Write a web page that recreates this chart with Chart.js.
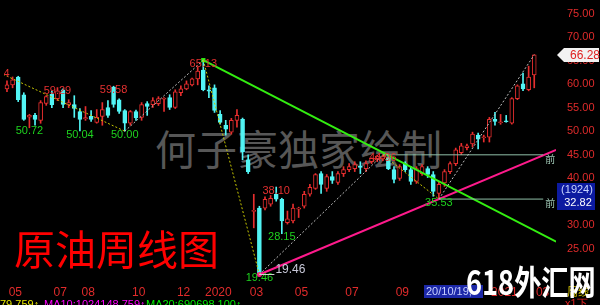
<!DOCTYPE html>
<html>
<head>
<meta charset="utf-8">
<script src="https://cdn.jsdelivr.net/npm/chart.js@4.4.1/dist/chart.umd.min.js"></script>
<style>
  html, body { margin: 0; padding: 0; background: #000; }
  #wrap { position: relative; width: 600px; height: 305px; overflow: hidden; background: #000; }
  #kline { position: absolute; left: 0; top: 0; }
  .mark { position: absolute; white-space: nowrap; line-height: 1; font-family: 'Noto Sans CJK SC', sans-serif; }
</style>
</head>
<body>
<div id="wrap">
  <div class="mark" style="left:155px;top:127px;font-size:41px;color:#575757;">何子豪独家绘制</div>
  <canvas id="kline" width="600" height="305"></canvas>
  <div class="mark" style="left:14px;top:227px;font-size:41px;color:#ff0000;">原油周线图</div>
  <div class="mark" style="left:466px;top:264px;font-size:34px;color:#ffffff;font-weight:bold;transform:scaleX(0.8);transform-origin:left top;">618外汇网</div>
</div>
<script>
// 原油周线 K线 (2019-05 ~ 2021-03)
const openArr = [
  59.03, 59.87, 61.55, 57.77, 53.00, 53.36, 52.31, 55.90, 57.90, 56.90,
  58.80, 55.60, 55.67, 54.20, 52.60, 53.15, 51.89, 53.15, 55.04, 59.40,
  56.70, 54.41, 51.68, 54.20, 52.94, 55.88, 55.67, 55.88, 56.80, 57.14,
  55.04, 58.19, 59.03, 59.87, 61.13, 63.02, 58.82, 59.24, 53.57, 51.26,
  49.79, 52.31, 52.52, 43.91, 32.90, 33.61, 33.61, 34.45, 36.55, 35.50,
  30.50, 30.88, 33.40, 34.03, 36.55, 37.81, 40.97, 37.81, 40.34, 39.07,
  40.97, 41.81, 42.02, 42.60, 42.02, 43.50, 43.90, 44.10, 44.54, 41.81,
  39.92, 43.07, 41.81, 39.28, 40.97, 42.02, 40.76, 36.76, 38.96, 41.39,
  43.07, 45.40, 46.50, 47.27, 49.16, 48.60, 48.74, 52.52, 51.80, 52.20,
  51.68, 56.93, 60.08, 58.82, 61.97
];
const highArr = [
  60.71, 61.55, 61.70, 58.19, 53.60, 53.78, 56.51, 57.60, 58.60, 59.29,
  59.00, 56.70, 57.56, 54.80, 55.25, 54.40, 54.60, 56.09, 56.50, 59.58,
  56.90, 54.60, 54.41, 54.50, 56.09, 56.30, 57.14, 57.35, 57.14, 57.77,
  58.82, 59.66, 60.71, 61.34, 63.60, 65.13, 59.66, 59.87, 54.41, 52.31,
  52.73, 54.62, 52.80, 44.96, 36.55, 34.00, 36.00, 36.30, 38.10, 35.71,
  32.98, 34.45, 33.80, 37.18, 38.65, 40.97, 41.39, 40.76, 41.39, 41.39,
  42.44, 43.07, 43.49, 43.49, 43.70, 44.30, 44.90, 44.96, 44.70, 42.44,
  42.86, 43.49, 42.44, 42.44, 42.86, 42.44, 41.39, 39.28, 41.81, 43.49,
  46.40, 47.40, 47.27, 49.79, 49.60, 49.16, 52.94, 53.99, 53.57, 53.36,
  57.14, 59.87, 62.39, 63.86, 66.28
];
const lowArr = [
  58.40, 59.24, 56.30, 52.31, 50.72, 51.26, 51.68, 55.50, 55.00, 56.50,
  55.00, 55.00, 52.94, 50.04, 52.30, 52.10, 51.70, 51.26, 52.94, 55.10,
  53.80, 50.00, 51.26, 52.30, 52.31, 53.36, 55.04, 55.46, 54.20, 54.62,
  54.83, 57.56, 58.82, 59.66, 59.87, 58.60, 57.14, 53.99, 51.47, 49.16,
  49.37, 50.84, 43.91, 40.97, 29.40, 19.46, 33.20, 34.00, 35.08, 28.15,
  30.20, 30.46, 31.60, 33.61, 36.13, 37.60, 36.76, 37.18, 38.86, 38.65,
  40.34, 41.39, 41.39, 40.97, 41.39, 43.10, 43.50, 43.70, 41.80, 38.96,
  39.50, 41.39, 38.65, 38.86, 40.55, 40.13, 36.13, 35.53, 38.23, 40.97,
  42.65, 45.00, 46.00, 46.64, 46.22, 47.69, 47.69, 51.26, 51.47, 51.90,
  51.50, 56.72, 58.61, 58.60, 59.24
];
const closeArr = [
  59.87, 60.92, 56.72, 52.52, 53.40, 52.52, 56.09, 57.35, 55.67, 58.60,
  55.70, 56.10, 54.83, 52.52, 52.90, 52.52, 52.94, 54.62, 53.36, 55.70,
  54.20, 51.68, 54.20, 52.80, 55.67, 55.25, 56.51, 56.93, 56.95, 55.04,
  58.40, 59.03, 60.08, 61.13, 62.81, 58.82, 58.50, 54.41, 51.89, 50.42,
  52.31, 53.36, 45.59, 41.39, 33.10, 19.75, 35.50, 35.71, 35.50, 30.88,
  31.30, 33.61, 33.60, 36.55, 38.02, 40.76, 38.65, 40.34, 39.49, 40.97,
  41.81, 42.44, 42.86, 42.30, 43.07, 44.20, 44.70, 44.60, 42.02, 39.71,
  42.44, 41.81, 39.28, 42.02, 42.44, 40.76, 37.18, 38.65, 41.39, 43.07,
  46.01, 46.90, 46.90, 49.37, 48.32, 48.80, 52.52, 52.10, 51.95, 52.00,
  56.93, 59.66, 59.03, 61.55, 66.28
];

// 月份刻度
const tickIdx = [0, 8, 13, 22, 30, 35, 43, 51, 60, 69, 86, 94];
const tickText = ['05', '07', '08', '10', '12', '2020', '03', '05', '07', '09', '2021', '03'];
const priceTicks = [25, 30, 35, 40, 45, 50, 55, 60, 65, 70, 75];

// 之字转折点
const zigIdx = [-2, 21, 35, 45, 67, 77, 94];
const zigVal = [62.84, 50.00, 65.13, 19.46, 44.96, 35.53, 66.28];

// 高低点标注
const markIdx = [-2, 4, 9, 13, 19, 21, 35, 45, 48, 49, 67, 77];
const markVal = [62.84, 50.72, 59.29, 50.04, 59.58, 50.00, 65.13, 19.46, 38.10, 28.15, 44.96, 35.53];
const markHigh = [true, false, true, false, true, false, true, false, true, false, true, false];

// 趋势线 / 水平线
const greenIdx = [35, 97.9];
const greenVal = [65.13, 26.45];
const pinkIdx = [45, 97.9];
const pinkVal = [19.46, 46.0];
const levelVal = [44.96, 35.53];
const levelFrom = [67, 77];
const levelTo = [95.6, 95.6];

const RED = '#e62e2e';
const CYAN = '#52f5f5';

const isUp = closeArr.map((c, i) => c >= openArr[i]);

function legPoints(legs) {
    const pts = [];
    legs.forEach(([a, b]) => {
        pts.push({ x: zigIdx[a], y: zigVal[a] }, { x: zigIdx[b], y: zigVal[b] }, { x: zigIdx[b], y: null });
    });
    return pts;
}

const lineBase = { type: 'line', pointRadius: 0, borderWidth: 1, tension: 0, fill: false, order: 0 };

const datasets = [
    {
        type: 'bar',
        data: closeArr.map((_, i) => ({ x: i, y: [lowArr[i], highArr[i]] })),
        backgroundColor: isUp.map(u => u ? RED : CYAN),
        barThickness: 1,
        grouped: false,
        order: 3
    },
    {
        type: 'bar',
        data: closeArr.map((c, i) => ({ x: i, y: [openArr[i], c] })),
        backgroundColor: isUp.map(u => u ? '#000000' : CYAN),
        borderColor: isUp.map(u => u ? RED : CYAN),
        borderWidth: 1,
        borderSkipped: false,
        barThickness: 4,
        minBarLength: 1,
        grouped: false,
        order: 2
    },
    { ...lineBase, data: legPoints([[0, 1], [2, 3], [4, 5]]), borderColor: '#c8c800', borderDash: [2, 2] },
    { ...lineBase, data: legPoints([[1, 2], [3, 4], [5, 6]]), borderColor: '#bdbdbd', borderDash: [2, 2] },
    {
        ...lineBase,
        data: levelVal.flatMap((v, i) => [{ x: levelFrom[i], y: v }, { x: levelTo[i], y: v }, { x: levelTo[i], y: null }]),
        borderColor: '#8fbfa8'
    },
    {
        ...lineBase,
        data: greenIdx.map((v, i) => ({ x: v, y: greenVal[i] })),
        borderColor: '#33ee11', borderWidth: 2,
        pointRadius: [3, 0], pointStyle: 'rect', pointBackgroundColor: '#33ee11', pointBorderWidth: 0
    },
    {
        ...lineBase,
        data: pinkIdx.map((v, i) => ({ x: v, y: pinkVal[i] })),
        borderColor: '#ff1a8c', borderWidth: 2,
        pointRadius: [2.5, 0], pointBackgroundColor: '#ff1a8c', pointBorderWidth: 0
    }
];

const FONT = '"Liberation Sans", Arial, sans-serif';

const overlay = {
    id: 'overlay',
    afterDatasetsDraw(chart) {
        const { ctx, chartArea, scales: { x, y } } = chart;
        ctx.save();
        ctx.beginPath();
        ctx.rect(chartArea.left, chartArea.top, chartArea.right - chartArea.left, chartArea.bottom - chartArea.top);
        ctx.clip();

        // 高低点数值
        ctx.font = '11px ' + FONT;
        ctx.textAlign = 'center';
        ctx.textBaseline = 'top';
        markIdx.forEach((v, i) => {
            ctx.fillStyle = markHigh[i] ? '#e53030' : '#1ed21e';
            ctx.fillText(markVal[i].toFixed(2), x.getPixelForValue(v), y.getPixelForValue(markVal[i]) - 2);
        });

        // 起点标注
        const lx = x.getPixelForValue(pinkIdx[0]);
        const ly = y.getPixelForValue(pinkVal[0]);
        ctx.strokeStyle = '#d0d0d0';
        ctx.lineWidth = 1;
        ctx.beginPath();
        ctx.moveTo(lx, Math.round(ly) + 0.5);
        ctx.lineTo(lx + 15, Math.round(ly) + 0.5);
        ctx.stroke();
        ctx.font = '12px ' + FONT;
        ctx.textAlign = 'left';
        ctx.fillStyle = '#c9c9d9';
        ctx.fillText(pinkVal[0].toFixed(2), lx + 16, ly - 11);

        // 水平线尾标
        ctx.font = '10px "Noto Sans CJK SC", sans-serif';
        ctx.fillStyle = '#9fc7b5';
        levelVal.forEach(v => {
            ctx.fillText('前', x.getPixelForValue(levelTo[0]) + 2, y.getPixelForValue(v) - 1);
        });
        ctx.restore();
    },
    afterDraw(chart) {
        const { ctx, scales: { y } } = chart;
        ctx.save();

        // 最新价标签
        const ty = Math.round(y.getPixelForValue(closeArr[closeArr.length - 1]));
        ctx.fillStyle = '#f2f2f2';
        ctx.beginPath();
        ctx.moveTo(557, ty);
        ctx.lineTo(564, ty - 7);
        ctx.lineTo(599, ty - 7);
        ctx.lineTo(599, ty + 7);
        ctx.lineTo(564, ty + 7);
        ctx.closePath();
        ctx.fill();
        ctx.font = '12px ' + FONT;
        ctx.textAlign = 'left';
        ctx.textBaseline = 'middle';
        ctx.fillStyle = '#e02020';
        ctx.fillText(closeArr[closeArr.length - 1].toFixed(2), 570, ty + 1);

        // 光标价格框
        ctx.fillStyle = '#0c1aa0';
        ctx.fillRect(557, 183, 38, 27);
        ctx.fillStyle = '#c8d4ff';
        ctx.textAlign = 'center';
        ctx.font = '11px ' + FONT;
        ctx.fillText('(1924)', 577, 190);
        ctx.fillStyle = '#ffffff';
        ctx.fillText('32.82', 578, 203);

        // 光标日期框
        ctx.fillStyle = '#1c28a8';
        ctx.fillRect(424, 285, 59, 13);
        ctx.fillStyle = '#c8d0ff';
        ctx.textAlign = 'left';
        ctx.fillText('20/10/19,', 426, 292);

        // 周期
        ctx.textBaseline = 'top';
        ctx.fillStyle = '#d8c800';
        ctx.font = '11px "Noto Sans CJK SC", sans-serif';
        ctx.fillText('周线', 567, 286);

        // 均线数值
        ctx.font = '11px ' + FONT;
        ctx.fillStyle = '#e8e800';
        ctx.fillText('79.759↑', 0, 299);
        ctx.fillStyle = '#ff00ff';
        ctx.fillText('MA10:1024148.759↑', 44, 299);
        ctx.fillStyle = '#00ee00';
        ctx.fillText('MA20:690698.100↑', 146, 299);
        ctx.fillStyle = '#e02020';
        ctx.fillText('x1下', 565, 298);
        ctx.restore();
    }
};

new Chart(document.getElementById('kline'), {
    type: 'bar',
    data: { datasets },
    options: {
        responsive: false,
        animation: false,
        devicePixelRatio: 1,
        layout: { padding: 0 },
        font: { family: FONT },
        plugins: { legend: { display: false }, tooltip: { enabled: false } },
        scales: {
            x: {
                type: 'linear',
                min: -0.531,
                max: 97.88,
                offset: false,
                grid: { display: false, drawTicks: false },
                border: { display: false },
                afterBuildTicks: s => { s.ticks = tickIdx.map(v => ({ value: v + 0.3 })); },
                afterFit: s => { s.height = 23; s.paddingLeft = 0; s.paddingRight = 0; },
                ticks: {
                    color: '#e02b2b',
                    font: { size: 12, family: FONT },
                    align: 'start',
                    maxRotation: 0,
                    autoSkip: false,
                    padding: 3,
                    callback: v => {
                        const k = tickIdx.indexOf(Math.round(v - 0.3));
                        return k >= 0 ? tickText[k] : '';
                    }
                }
            },
            y: {
                position: 'right',
                min: 17.86,
                max: 77.1,
                grid: { display: false, drawTicks: false },
                border: { display: false },
                afterBuildTicks: s => { s.ticks = priceTicks.map(v => ({ value: v })); },
                afterFit: s => { s.width = 44; s.paddingTop = 0; s.paddingBottom = 0; },
                ticks: {
                    color: '#e02b2b',
                    font: { size: 11, family: FONT },
                    padding: 11,
                    callback: v => v.toFixed(2)
                }
            }
        }
    },
    plugins: [overlay]
});
</script>
</body>
</html>
